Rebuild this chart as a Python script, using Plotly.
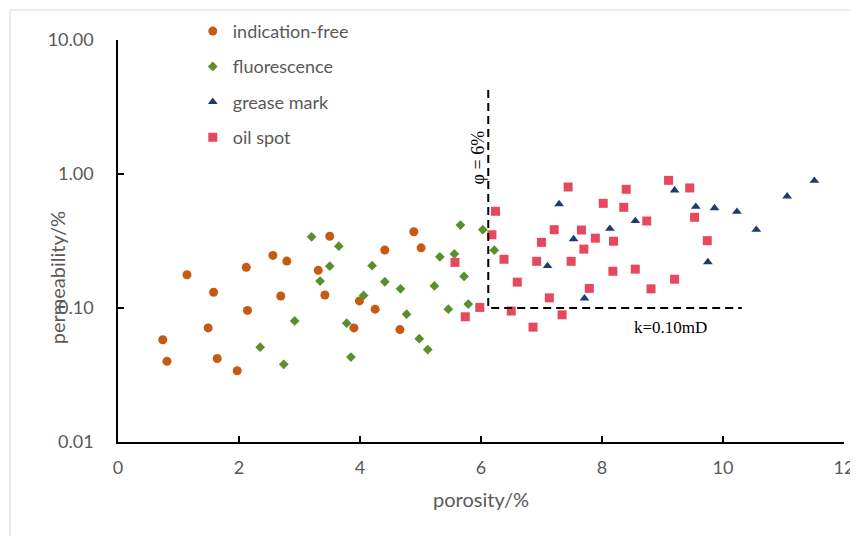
"""Porosity vs permeability cross-plot by oil-show grade"""

import numpy as np
import plotly.graph_objects as go

# porosity (%) and permeability values
free_phi = [0.74, 0.81, 1.14, 1.49, 1.58, 1.64, 1.97, 2.12, 2.14, 2.56, 2.69,
            2.79, 3.31, 3.42, 3.50, 3.90, 3.99, 4.25, 4.41, 4.66, 4.89, 5.01]
free_k = [0.058, 0.040, 0.177, 0.071, 0.131, 0.042, 0.034, 0.201, 0.096, 0.247, 0.123,
          0.224, 0.191, 0.125, 0.343, 0.071, 0.113, 0.098, 0.271, 0.069, 0.371, 0.281]

fluo_phi = [2.35, 2.74, 2.92, 3.20, 3.34, 3.50, 3.65, 3.78, 3.85, 4.06, 4.20, 4.41, 4.67,
            4.77, 4.98, 5.12, 5.23, 5.32, 5.46, 5.56, 5.66, 5.72, 5.79, 6.03, 6.22]
fluo_k = [0.051, 0.038, 0.080, 0.340, 0.159, 0.205, 0.289, 0.077, 0.043, 0.124, 0.207, 0.157, 0.139,
          0.090, 0.059, 0.049, 0.146, 0.241, 0.098, 0.253, 0.416, 0.172, 0.107, 0.384, 0.270]

grease_phi = [7.10, 7.29, 7.53, 7.71, 8.13, 8.55, 9.20, 9.55, 9.75, 9.86, 10.23, 10.55, 11.06, 11.51]
grease_k = [0.206, 0.597, 0.327, 0.118, 0.391, 0.446, 0.756, 0.570, 0.220, 0.557, 0.523, 0.384, 0.682, 0.891]

oil_phi = [5.57, 5.74, 5.98, 6.18, 6.24, 6.38, 6.50, 6.60, 6.86, 6.92, 7.00, 7.13, 7.21, 7.34, 7.44,
           7.49, 7.66, 7.70, 7.79, 7.89, 8.02, 8.18, 8.19, 8.36, 8.40, 8.55, 8.74, 8.81, 9.10, 9.20,
           9.45, 9.53, 9.74]
oil_k = [0.219, 0.086, 0.101, 0.352, 0.527, 0.231, 0.095, 0.156, 0.072, 0.223, 0.309, 0.119, 0.384, 0.089, 0.800,
         0.223, 0.382, 0.275, 0.140, 0.332, 0.604, 0.188, 0.315, 0.564, 0.769, 0.195, 0.446, 0.139, 0.897, 0.164,
         0.787, 0.475, 0.318]

# cut-off lines
cut_phi = [6.12, 6.12, 10.31]
cut_k = [4.24, 0.10, 0.10]

y_ticks = [0.01, 0.1, 1, 10]

COLORS = {
    'free': '#C55A11',
    'fluo': '#5A8F2E',
    'grease': '#1F3A6B',
    'oil': '#E8485E',
}
GREY = '#595959'
SANS = 'Lato'
SERIF = 'Liberation Serif'

fig = go.Figure()

series = [
    ('indication-free', free_phi, free_k, COLORS['free'], 'circle', 9),
    ('fluorescence', fluo_phi, fluo_k, COLORS['fluo'], 'diamond', 7.5),
    ('grease mark', grease_phi, grease_k, COLORS['grease'], 'triangle-up', 8.5),
    ('oil spot', oil_phi, oil_k, COLORS['oil'], 'square', 9),
]
for name, xs, ys, color, symbol, size in series:
    fig.add_trace(go.Scatter(
        x=xs, y=ys, mode='markers', name=name, legendgroup=name,
        marker=dict(color=color, symbol=symbol, size=size, line=dict(width=0)),
    ))

# 截止线 (dashed)
fig.add_trace(go.Scatter(
    x=cut_phi, y=cut_k, mode='lines', showlegend=False, hoverinfo='skip',
    line=dict(color='black', width=2, dash='8px,5px'),
))

fig.add_annotation(x=cut_phi[0] - 0.17, y=np.log10(1.33), xref='x', yref='y',
                   text='φ = 6%', textangle=-90, showarrow=False,
                   font=dict(family=SERIF, size=18, color='black'))
fig.add_annotation(x=9.13, y=np.log10(0.072), xref='x', yref='y',
                   text='k=0.10mD', showarrow=False,
                   font=dict(family=SERIF, size=17, color='black'))

# axis titles placed like the original (y title overlaps tick labels)
fig.add_annotation(x=-0.103, y=0.408, xref='paper', yref='paper', text='permeability/%',
                   textangle=-90, showarrow=False, font=dict(family=SANS, size=20, color=GREY))
fig.add_annotation(x=0.5, y=-0.177, xref='paper', yref='paper', text='porosity/%',
                   showarrow=False, font=dict(family=SANS, size=20, color=GREY))

# faint outer frame
fig.add_shape(type='rect', xref='paper', yref='paper', x0=-0.1488, x1=1.2, y0=-0.5, y1=1.0746,
              line=dict(color='#D9D9D9', width=1), layer='below')

axis_common = dict(
    showline=True, linecolor='black', linewidth=1.5,
    ticks='inside', ticklen=6, tickwidth=1.5, tickcolor='black',
    showgrid=False, zeroline=False,
    tickfont=dict(family=SANS, size=18, color=GREY),
)

fig.update_xaxes(range=[0, 12], dtick=2, ticklabelstandoff=9, **axis_common)
fig.update_yaxes(type='log', range=[-2, 1], tickvals=y_ticks, tickformat='.2f',
                 ticklabelstandoff=19, **axis_common)

# page body has an 8px margin, so the figure is smaller and margins shifted
fig.update_layout(
    width=850, height=528,
    margin=dict(l=110, r=14, t=32, b=94, autoexpand=False),
    plot_bgcolor='white', paper_bgcolor='white',
    showlegend=True,
    legend=dict(x=0.103, y=1.0675, xanchor='left', yanchor='top',
                font=dict(family=SANS, size=18, color=GREY),
                tracegroupgap=9, bgcolor='rgba(0,0,0,0)'),
)

fig.write_html("out.html")
